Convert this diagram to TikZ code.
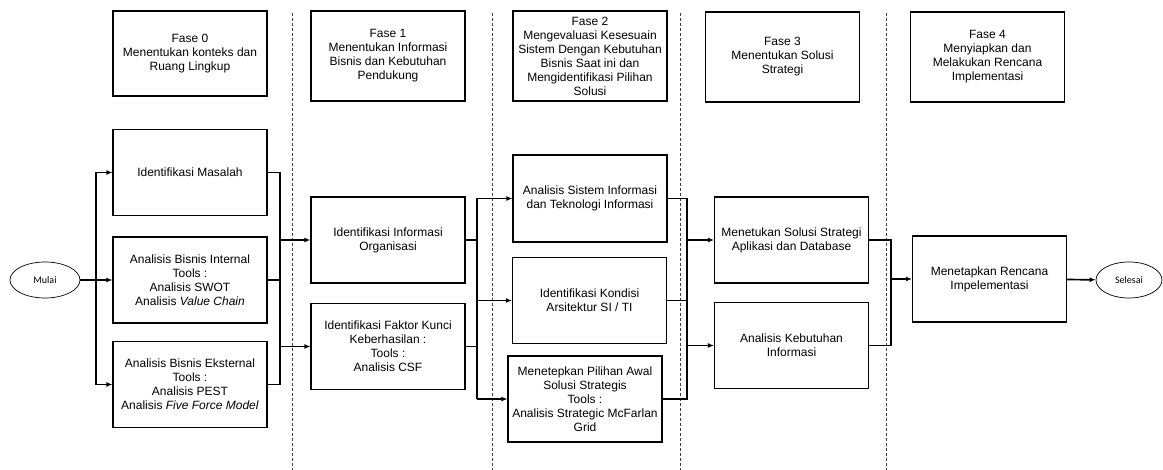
\documentclass[tikz,border=0pt]{standalone}
\usepackage{fontspec}
\setmainfont{Liberation Sans}
\newfontfamily\calfont{Carlito}
\usetikzlibrary{shapes.geometric,arrows.meta}

\tikzset{
  box/.style={draw,line width=1.1pt,minimum width=154pt,minimum height=86pt,align=center,inner sep=2pt,font=\fontsize{12}{14}\selectfont},
  term/.style={draw,ellipse,line width=0.7pt,minimum width=70pt,minimum height=36pt,font=\calfont\fontsize{10}{12}\selectfont},
  flow/.style={line width=1.7pt,-{Latex[length=6pt,width=5pt]}},
  bus/.style={line width=1.7pt},
  divider/.style={line width=0.9pt,dash pattern=on 3pt off 2pt,black!75}
}

\begin{document}
\begin{tikzpicture}[x=1pt,y=-1pt]

\useasboundingbox (0,0) rectangle (1163,470);

\foreach \x in {292,492,680,886}
  \draw[divider] (\x,13) -- (\x,470);

\node[box,minimum height=85pt] (fase0) at (190,53.5) {Fase 0\\Menentukan konteks dan\\Ruang Lingkup};
\node[box,minimum height=90pt] (fase1) at (388,56) {Fase 1\\Menentukan Informasi\\Bisnis dan Kebutuhan\\Pendukung};
\node[box,minimum height=90pt] (fase2) at (590,56) {Fase 2\\Mengevaluasi Kesesuain\\Sistem Dengan Kebutuhan\\Bisnis Saat ini dan\\Mengidentifikasi Pilihan\\Solusi};
\node[box,minimum height=90pt] (fase3) at (782.5,57) {Fase 3\\Menentukan Solusi\\Strategi};
\node[box,minimum height=90pt] (fase4) at (987.5,57) {Fase 4\\Menyiapkan dan\\Melakukan Rencana\\Implementasi};

\node[term] (mulai) at (45,280) {Mulai};
\node[box] (masalah) at (190,172.5) {Identifikasi Masalah};
\node[box] (internal) at (190,280) {Analisis Bisnis Internal\\Tools :\\Analisis SWOT\\Analisis \textit{Value Chain}};
\node[box] (eksternal) at (190,384.5) {Analisis Bisnis Eksternal\\Tools :\\Analisis PEST\\Analisis \textit{Five Force Model}};

\node[box] (organisasi) at (388,240) {Identifikasi Informasi\\Organisasi};
\node[box] (faktor) at (388,346.5) {Identifikasi Faktor Kunci\\Keberhasilan :\\Tools :\\Analisis CSF};

\node[box,minimum height=87pt] (sistem) at (590,198.5) {Analisis Sistem Informasi\\dan Teknologi Informasi};
\node[box] (kondisi) at (589.5,300.5) {Identifikasi Kondisi\\Arsitektur SI / TI};
\node[box] (pilihan) at (585,399) {Menetepkan Pilihan Awal\\Solusi Strategis\\Tools :\\Analisis Strategic McFarlan\\Grid};

\node[box] (solusi) at (791.5,240) {Menetukan Solusi Strategi\\Aplikasi dan Database};
\node[box] (kebutuhan) at (791.5,345.5) {Analisis Kebutuhan\\Informasi};

\node[box] (rencana) at (989.5,279) {Menetapkan Rencana\\Impelementasi};
\node[term,minimum width=66pt] (selesai) at (1129,280) {Selesai};

\coordinate (j0) at (96,280);
\coordinate (j1) at (280,0);
\coordinate (j2) at (477,0);
\coordinate (j3) at (687,0);
\coordinate (j4) at (891,0);

\draw[bus] (mulai) -- (j0);
\draw[flow] (j0) |- (masalah);
\draw[flow] (j0) -- (internal);
\draw[flow] (j0) |- (eksternal);

\draw[bus] (masalah.east) -| (j1 |- eksternal.east) -- (eksternal.east);
\draw[bus] (internal.east) -- (j1 |- internal.east);
\draw[flow] (j1 |- organisasi) -- (organisasi);
\draw[flow] (j1 |- faktor) -- (faktor);

\draw[bus] (organisasi.east) -- (j2 |- organisasi.east);
\draw[bus] (faktor.east) -- (j2 |- faktor.east);
\draw[bus] (j2 |- sistem) -- (j2 |- pilihan);
\draw[flow] (j2 |- sistem) -- (sistem);
\draw[flow] (j2 |- kondisi) -- (kondisi);
\draw[flow] (j2 |- pilihan) -- (pilihan);

\draw[bus] (sistem.east) -| (j3 |- pilihan.east) -- (pilihan.east);
\draw[bus] (kondisi.east) -- (j3 |- kondisi.east);
\draw[flow] (j3 |- solusi) -- (solusi);
\draw[flow] (j3 |- kebutuhan) -- (kebutuhan);

\draw[bus] (solusi.east) -| (j4 |- kebutuhan.east) -- (kebutuhan.east);
\draw[flow] (j4 |- rencana) -- (rencana);
\draw[flow] (rencana) -- (selesai);

\end{tikzpicture}
\end{document}
